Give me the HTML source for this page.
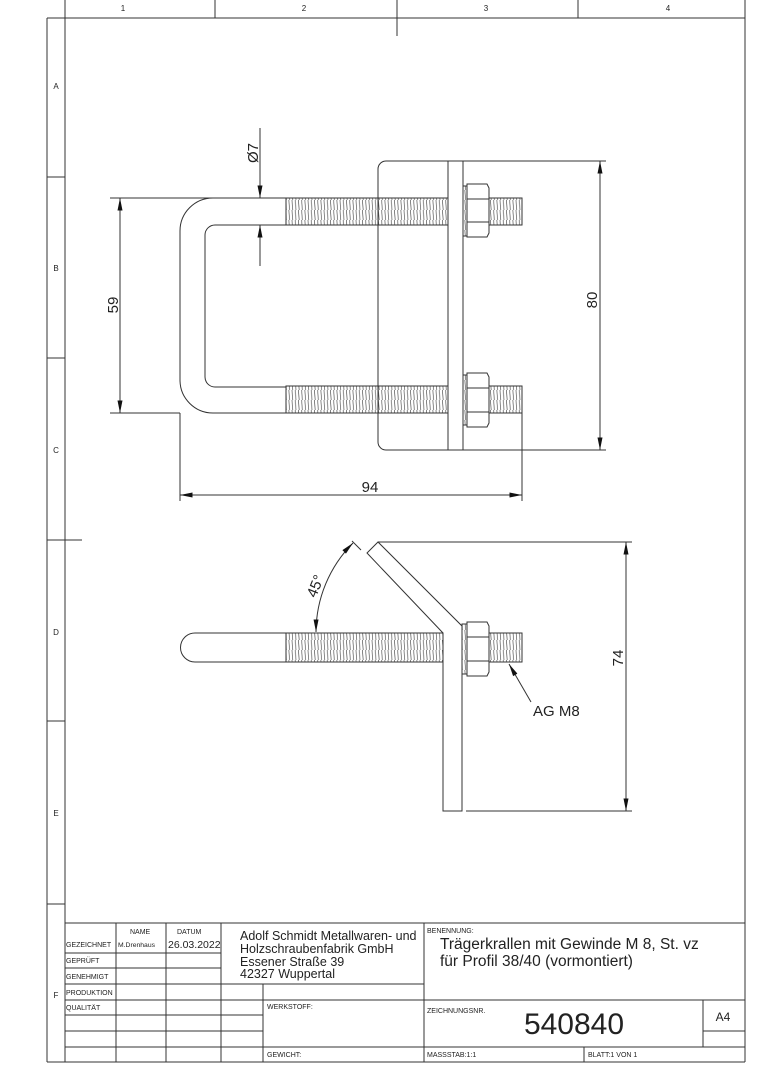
<!DOCTYPE html>
<html><head><meta charset="utf-8"><style>
html,body{margin:0;padding:0;background:#fff;}
svg{display:block;}
text{font-family:"Liberation Sans",sans-serif;fill:#222;}
</style></head><body>
<svg width="764" height="1080" viewBox="0 0 764 1080" xmlns="http://www.w3.org/2000/svg">
<defs>
<pattern id="th" width="3.2" height="10" patternUnits="userSpaceOnUse">
<line x1="0.8" y1="0" x2="1.6" y2="10" stroke="#555" stroke-width="0.7"/>
</pattern>
<marker id="ar" viewBox="0 0 10 4" refX="10" refY="2" markerWidth="14" markerHeight="5" markerUnits="userSpaceOnUse" orient="auto-start-reverse">
<path d="M0,0 L10,2 L0,4 z" fill="#111"/>
</marker>
</defs>
<g stroke="#333" stroke-width="1" fill="none">
<line x1="65" y1="0" x2="65" y2="1062"/>
<line x1="47" y1="18" x2="745" y2="18"/>
<line x1="47" y1="18" x2="47" y2="1062"/>
<line x1="47" y1="1062" x2="745" y2="1062"/>
<line x1="745" y1="0" x2="745" y2="1062"/>
<line x1="215" y1="0" x2="215" y2="18"/>
<line x1="397" y1="0" x2="397" y2="36"/>
<line x1="578" y1="0" x2="578" y2="18"/>
<line x1="47" y1="177" x2="65" y2="177"/>
<line x1="47" y1="358" x2="65" y2="358"/>
<line x1="47" y1="540" x2="82" y2="540"/>
<line x1="47" y1="721" x2="65" y2="721"/>
<line x1="47" y1="904" x2="65" y2="904"/>
<line x1="65" y1="923" x2="745" y2="923"/>
<line x1="65" y1="953" x2="221" y2="953"/>
<line x1="65" y1="968" x2="221" y2="968"/>
<line x1="65" y1="984" x2="424" y2="984"/>
<line x1="65" y1="1000" x2="745" y2="1000"/>
<line x1="65" y1="1015" x2="263" y2="1015"/>
<line x1="65" y1="1031" x2="263" y2="1031"/>
<line x1="703" y1="1031" x2="745" y2="1031"/>
<line x1="65" y1="1047" x2="745" y2="1047"/>
<line x1="116" y1="923" x2="116" y2="1062"/>
<line x1="166" y1="923" x2="166" y2="1062"/>
<line x1="221" y1="923" x2="221" y2="1062"/>
<line x1="263" y1="984" x2="263" y2="1062"/>
<line x1="424" y1="923" x2="424" y2="1062"/>
<line x1="584" y1="1047" x2="584" y2="1062"/>
<line x1="703" y1="1000" x2="703" y2="1047"/>
</g>
<g font-size="8" text-anchor="middle">
<text x="123" y="11">1</text><text x="304" y="11">2</text><text x="486" y="11">3</text><text x="668" y="11">4</text>
<text x="56" y="89">A</text><text x="56" y="271">B</text><text x="56" y="453">C</text><text x="56" y="635">D</text><text x="56" y="816">E</text><text x="56" y="998">F</text>
</g>
<g font-size="7">
<text x="130" y="934">NAME</text><text x="177" y="934">DATUM</text>
<text x="66" y="947">GEZEICHNET</text><text x="118" y="947" font-size="6.8">M.Drenhaus</text>
<text x="168" y="948" font-size="10.5">26.03.2022</text>
<text x="66" y="963">GEPRÜFT</text><text x="66" y="979">GENEHMIGT</text>
<text x="66" y="995">PRODUKTION</text><text x="66" y="1010">QUALITÄT</text>
<text x="267" y="1009">WERKSTOFF:</text><text x="267" y="1057">GEWICHT:</text>
<text x="427" y="933">BENENNUNG:</text><text x="427" y="1013">ZEICHNUNGSNR.</text>
<text x="427" y="1057">MASSSTAB:1:1</text><text x="588" y="1057">BLATT:1 VON 1</text>
</g>
<g font-size="12.5">
<text x="240" y="940">Adolf Schmidt Metallwaren- und</text>
<text x="240" y="953">Holzschraubenfabrik GmbH</text>
<text x="240" y="966">Essener Straße 39</text>
<text x="240" y="978">42327 Wuppertal</text>
</g>
<text x="440" y="949" font-size="15.5">Trägerkrallen mit Gewinde M 8, St. vz</text>
<text x="440" y="966" font-size="15.5">für Profil 38/40 (vormontiert)</text>
<text x="574" y="1034" font-size="30" text-anchor="middle">540840</text>
<text x="723" y="1021" font-size="12" text-anchor="middle">A4</text>

<g stroke="#333" stroke-width="1" fill="none">
<path d="M286,198 L213,198 A33,33 0 0 0 180,231 L180,380 A33,33 0 0 0 213,413 L286,413"/>
<path d="M286,225 L215,225 A10,10 0 0 0 205,235 L205,377 A10,10 0 0 0 215,387 L286,387"/>
<rect x="286" y="198" width="162" height="27" fill="url(#th)"/>
<rect x="286" y="386" width="162" height="27" fill="url(#th)"/>
<rect x="489" y="198" width="33" height="27" fill="url(#th)"/>
<rect x="489" y="386" width="33" height="27" fill="url(#th)"/>
<path d="M448,161 L386,161 A8,8 0 0 0 378,169 L378,442 A8,8 0 0 0 386,450 L448,450"/>
<rect x="448" y="161" width="15" height="289"/>
<rect x="463" y="186" width="4" height="50" fill="url(#th)"/>
<rect x="463" y="375" width="4" height="50" fill="url(#th)"/>
<path d="M467,184 L487,184 L489,188 L489,233 L487,237 L467,237 z"/>
<path d="M467,199 L489,199 M467,222 L489,222"/>
<path d="M467,373 L487,373 L489,377 L489,423 L487,427 L467,427 z"/>
<path d="M467,388 L489,388 M467,412 L489,412"/>
<line x1="110" y1="198" x2="213" y2="198"/>
<line x1="110" y1="413" x2="180" y2="413"/>
<line x1="120" y1="198" x2="120" y2="413" marker-start="url(#ar)" marker-end="url(#ar)"/>
<line x1="463" y1="161" x2="606" y2="161"/>
<line x1="463" y1="450" x2="606" y2="450"/>
<line x1="600" y1="161" x2="600" y2="450" marker-start="url(#ar)" marker-end="url(#ar)"/>
<line x1="180" y1="413" x2="180" y2="501"/>
<line x1="522" y1="413" x2="522" y2="501"/>
<line x1="180" y1="495" x2="522" y2="495" marker-start="url(#ar)" marker-end="url(#ar)"/>
<line x1="260" y1="128" x2="260" y2="198" marker-end="url(#ar)"/>
<line x1="260" y1="266" x2="260" y2="225" marker-end="url(#ar)"/>
</g>
<text transform="translate(118,305) rotate(-90)" font-size="15" text-anchor="middle">59</text>
<text transform="translate(597,300) rotate(-90)" font-size="15" text-anchor="middle">80</text>
<text x="370" y="492" font-size="15" text-anchor="middle">94</text>
<text transform="translate(258,153) rotate(-90)" font-size="15" text-anchor="middle">Ø7</text>

<g stroke="#333" stroke-width="1" fill="none">
<path d="M286,633 L195,633 A14.5,14.5 0 0 0 195,662 L286,662"/>
<rect x="286" y="633" width="157" height="29" fill="url(#th)"/>
<rect x="489" y="633" width="33" height="29" fill="url(#th)"/>
<path d="M443,633 L367,553 L378,542 L462,626 L462,811 L443,811 z"/>
<rect x="462" y="624" width="5" height="50" fill="url(#th)"/>
<path d="M467,622 L487,622 L489,626 L489,672 L487,676 L467,676 z"/>
<path d="M467,637 L489,637 M467,661 L489,661"/>
<line x1="378" y1="542" x2="632" y2="542"/>
<line x1="466" y1="811" x2="632" y2="811"/>
<line x1="626" y1="542" x2="626" y2="811" marker-start="url(#ar)" marker-end="url(#ar)"/>
<path d="M316,632 A127,127 0 0 1 353,543" marker-start="url(#ar)" marker-end="url(#ar)"/>
<line x1="352" y1="541" x2="361" y2="550"/>
<line x1="531" y1="702" x2="509" y2="664" marker-end="url(#ar)"/>
</g>
<text transform="translate(320,588) rotate(-68)" font-size="15" text-anchor="middle">45°</text>
<text transform="translate(623,658) rotate(-90)" font-size="15" text-anchor="middle">74</text>
<text x="533" y="716" font-size="15">AG M8</text>
</svg>
</body></html>
